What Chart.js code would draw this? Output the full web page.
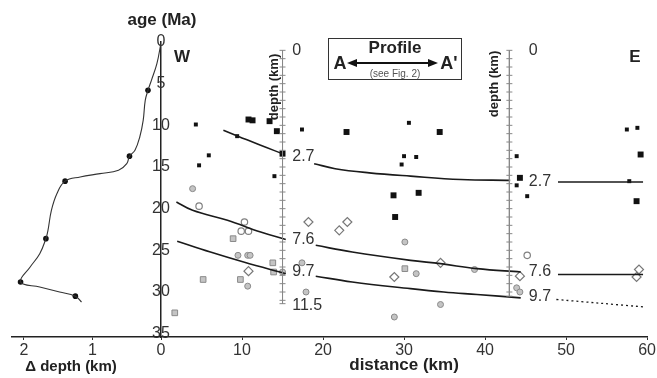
<!DOCTYPE html>
<html>
<head>
<meta charset="utf-8">
<script src="https://cdn.jsdelivr.net/npm/chart.js@4.4.1/dist/chart.umd.min.js"></script>
<style>
  body { margin: 0; background: #fff; }
  #wrap { position: relative; width: 657px; height: 378px; font-family: "Liberation Sans", Arial, sans-serif; color: #222; overflow: hidden; }
  canvas { position: absolute; top: 0; left: 0; }
  .lbl { position: absolute; font-weight: bold; white-space: nowrap; transform: translate(-50%, -50%); }
  .rot { transform: translate(-50%, -50%) rotate(-90deg); }
  #profile { position: absolute; left: 328px; top: 38px; width: 134px; height: 42px; box-sizing: border-box; border: 1.5px solid #333; background: #fff; }
  #profile div { position: absolute; white-space: nowrap; transform: translate(-50%, -50%); }
</style>
</head>
<body>
<div id="wrap">
  <canvas id="mainChart" width="657" height="378"></canvas>
  <canvas id="deltaChart" width="170" height="378"></canvas>

  <div class="lbl" style="left:162px; top:20px; font-size:17px;">age (Ma)</div>
  <div class="lbl" style="left:182px; top:57px; font-size:17px;">W</div>
  <div class="lbl" style="left:635px; top:57px; font-size:17px;">E</div>
  <div class="lbl" style="left:71px; top:365px; font-size:15px;">Δ depth (km)</div>
  <div class="lbl rot" style="left:273px; top:87px; font-size:13px;">depth (km)</div>
  <div class="lbl rot" style="left:493px; top:84px; font-size:13px;">depth (km)</div>

  <div id="profile">
    <svg width="134" height="42" style="position:absolute; left:-1.5px; top:-1.5px;">
      <line x1="26" y1="25" x2="103" y2="25" stroke="#111" stroke-width="2"/>
      <polygon points="19,25 29,21 29,29" fill="#111"/>
      <polygon points="110,25 100,21 100,29" fill="#111"/>
    </svg>
    <div style="left:66px; top:9px; font-weight:bold; font-size:17px;">Profile</div>
    <div style="left:11px; top:24px; font-weight:bold; font-size:18px;">A</div>
    <div style="left:120px; top:24px; font-weight:bold; font-size:18px;">A'</div>
    <div style="left:66px; top:34px; font-size:10px; color:#555;">(see Fig. 2)</div>
  </div>
</div>

<script>
    // Left panel: depth anomaly (km) against age (Ma)
    const deltaCurve = [[0, 0.1], [0.06, 2.6], [0.14, 4.6], [0.19, 5.8], [0.23, 7.0], [0.26, 9.4], [0.31, 11.4],
        [0.38, 13.0], [0.46, 13.7], [0.50, 14.6], [0.62, 15.4], [0.89, 15.8], [1.18, 16.2], [1.40, 16.7],
        [1.52, 18.2], [1.60, 20.2], [1.65, 22.6], [1.68, 23.6], [1.77, 25.4], [1.91, 27.0], [2.05, 28.8],
        [1.77, 29.4], [1.48, 30.0], [1.25, 30.5], [1.16, 31.2]];
    const deltaPoints = [[0.19, 5.8], [0.46, 13.7], [1.40, 16.7], [1.68, 23.6], [2.05, 28.8], [1.25, 30.5]];

    // Main panel samples: [distance km, age Ma]
    const bigSquares = [[10.8, 9.3], [11.3, 9.4], [13.4, 9.5], [14.3, 10.7], [15.0, 13.4], [22.9, 10.8], [34.4, 10.8],
        [28.7, 18.4], [28.9, 21.0], [31.8, 18.1], [44.3, 16.3], [59.2, 13.5], [58.7, 19.1]];
    const smallSquares = [[4.3, 9.9], [5.9, 13.6], [4.7, 14.8], [9.4, 11.3], [14.0, 16.1], [17.4, 10.5], [30.6, 9.7],
        [30.0, 13.7], [29.7, 14.7], [31.5, 13.8], [43.9, 13.7], [43.9, 17.2], [45.2, 18.5], [57.5, 10.5],
        [58.8, 10.3], [57.8, 16.7]];
    const grayDots = [[3.9, 17.6], [9.5, 25.6], [10.7, 25.6], [11.0, 25.6], [15.0, 27.6], [10.7, 29.3], [17.4, 26.5],
        [17.9, 30.0], [30.1, 24.0], [28.8, 33.0], [31.5, 27.8], [38.7, 27.3], [34.5, 31.5], [43.9, 29.5], [44.3, 30.0]];
    const grayBoxes = [[8.9, 23.6], [13.8, 26.5], [13.9, 27.6], [5.2, 28.5], [9.8, 28.5], [1.7, 32.5], [30.1, 27.2]];
    const openCircles = [[4.7, 19.7], [10.3, 21.6], [9.9, 22.7], [10.8, 22.7], [45.2, 25.6]];
    const diamonds = [[18.2, 21.6], [22.0, 22.6], [23.0, 21.6], [10.8, 27.5], [28.8, 28.2], [34.5, 26.5],
        [44.3, 28.1], [59.0, 27.3], [58.7, 28.2]];

    // Horizons, split where the depth labels sit
    const horizon27 = [
        [[7.7, 10.6], [9.5, 11.3], [12.3, 12.4], [15.0, 13.4]],
        [[18.9, 14.6], [21.5, 15.2], [25.7, 15.7], [30.8, 16.1], [37.0, 16.5], [43.1, 16.6]],
        [[49.0, 16.8], [59.5, 16.8]]
    ];
    const horizon76 = [
        [[1.9, 19.2], [3.9, 20.2], [8.2, 21.4], [12.3, 22.8], [15.4, 23.7]],
        [[19.1, 24.4], [23.6, 25.2], [30.8, 26.2], [34.5, 26.6], [39.0, 27.2], [44.4, 27.6]],
        [[49.0, 27.9], [59.5, 27.9]]
    ];
    const horizon97 = [
        [[2.0, 23.9], [6.1, 25.2], [10.2, 26.4], [15.4, 27.8]],
        [[19.1, 28.1], [23.6, 28.8], [30.8, 29.6], [34.9, 30.0], [39.0, 30.3], [44.4, 30.7]]
    ];
    const horizon97Projected = [[48.8, 30.9], [59.7, 31.8]];

    // Depth scales: distance of each scale and the ages of its tick marks
    const depthScaleDist = [15, 43];
    const leftScaleTicks = [1, 2, 3, 4, 5, 6, 7, 8, 9, 10, 11, 12, 13, 14, 15, 16, 17, 18, 19, 20, 21, 22, 23, 24, 25, 26, 27, 28, 29, 30, 31, 31.4];
    const rightScaleTicks = [1, 2, 3, 4, 5, 6, 7, 8, 9, 10, 11, 12, 13, 14, 15, 16, 17, 18, 19, 20, 21, 22, 23, 24, 25, 26, 27, 28, 29, 30, 30.5];

    // Depth labels (km) beside each scale
    const depthLabelText = ['0', '2.7', '7.6', '9.7', '11.5', '0', '2.7', '7.6', '9.7'];
    const depthLabelDist = [16.2, 16.2, 16.2, 16.2, 16.2, 45.4, 45.4, 45.4, 45.4];
    const depthLabelAge = [1.0, 13.8, 23.7, 27.6, 31.6, 1.0, 16.8, 27.6, 30.6];

    const distanceTicks = { min: 0, max: 60, step: 10 };
    const ageTicks = { min: 0, max: 35.4, step: 5 };
    const deltaTicks = { min: 0, max: 2.175, step: 1 };

    Chart.defaults.font.family = '"Liberation Sans", Arial, sans-serif';
    Chart.defaults.color = '#333';

    const toXY = arr => arr.map(p => ({ x: p[0], y: p[1] }));

    const depthLabels = {
        id: 'depthLabels',
        afterDatasetsDraw(chart) {
            const { ctx, scales: { x, y } } = chart;
            ctx.save();
            ctx.font = '16px "Liberation Sans", Arial, sans-serif';
            ctx.fillStyle = '#333';
            ctx.textAlign = 'left';
            ctx.textBaseline = 'middle';
            depthLabelText.forEach((t, i) => {
                ctx.fillText(t, x.getPixelForValue(depthLabelDist[i]), y.getPixelForValue(depthLabelAge[i]));
            });
            ctx.restore();
        }
    };

    const lineSet = (pts, extra) => Object.assign({
        data: toXY(pts), showLine: true, pointRadius: 0, borderColor: '#1a1a1a',
        borderWidth: 1.6, tension: 0.4, fill: false
    }, extra || {});

    const scaleSet = (dist, ticks) => ({
        data: ticks.map(a => ({ x: dist, y: a })), showLine: true, borderColor: '#888', borderWidth: 1,
        pointStyle: 'line', pointRadius: 3, pointBorderColor: '#888', pointBorderWidth: 1
    });

    const mainDatasets = [
        scaleSet(depthScaleDist[0], leftScaleTicks),
        scaleSet(depthScaleDist[1], rightScaleTicks),
        ...horizon27.map(s => lineSet(s)),
        ...horizon76.map(s => lineSet(s)),
        ...horizon97.map(s => lineSet(s)),
        lineSet(horizon97Projected, { borderDash: [2, 3], borderWidth: 1.3 }),
        { data: toXY(grayDots), pointStyle: 'circle', pointRadius: 3, backgroundColor: '#c4c4c4', borderColor: '#8a8a8a', borderWidth: 1 },
        { data: toXY(grayBoxes), pointStyle: 'rect', pointRadius: 4, backgroundColor: '#c4c4c4', borderColor: '#8a8a8a', borderWidth: 1 },
        { data: toXY(openCircles), pointStyle: 'circle', pointRadius: 3.2, backgroundColor: '#fff', borderColor: '#808080', borderWidth: 1.2 },
        { data: toXY(diamonds), pointStyle: 'rectRot', pointRadius: 4.5, backgroundColor: '#fff', borderColor: '#777', borderWidth: 1.2 },
        { data: toXY(smallSquares), pointStyle: 'rect', pointRadius: 2.8, backgroundColor: '#111', borderColor: '#111', borderWidth: 0 },
        { data: toXY(bigSquares), pointStyle: 'rect', pointRadius: 4.2, backgroundColor: '#111', borderColor: '#111', borderWidth: 0 }
    ];

    new Chart(document.getElementById('mainChart'), {
        type: 'scatter',
        data: { datasets: mainDatasets },
        options: {
            responsive: false,
            animation: false,
            layout: { padding: { left: 161, right: 9, top: 42, bottom: 0 } },
            plugins: { legend: { display: false }, tooltip: { enabled: false } },
            scales: {
                x: {
                    type: 'linear', min: distanceTicks.min, max: distanceTicks.max,
                    ticks: { stepSize: distanceTicks.step, font: { size: 16 }, color: '#333', padding: 1 },
                    grid: { drawOnChartArea: false, tickLength: 3, color: '#333' },
                    border: { color: '#222', width: 1.5 },
                    title: { display: true, text: 'distance (km)', color: '#222', font: { size: 17, weight: 'bold' }, padding: { top: 0, bottom: 2 } },
                    afterFit: s => { s.height = 41; }
                },
                y: {
                    type: 'linear', reverse: true, min: ageTicks.min, max: ageTicks.max,
                    ticks: { stepSize: ageTicks.step, includeBounds: false, mirror: true, crossAlign: 'center', padding: -9, font: { size: 16 }, color: '#333' },
                    grid: { display: false },
                    border: { color: '#222', width: 1.5 },
                    afterFit: s => { s.width = 0; }
                }
            }
        },
        plugins: [depthLabels]
    });

    new Chart(document.getElementById('deltaChart'), {
        type: 'scatter',
        data: {
            datasets: [
                { data: toXY(deltaCurve), showLine: true, pointRadius: 0, borderColor: '#333', borderWidth: 1.1, tension: 0.4 },
                { data: toXY(deltaPoints), pointRadius: 2.8, backgroundColor: '#111', borderColor: '#111', borderWidth: 0 }
            ]
        },
        options: {
            responsive: false,
            animation: false,
            layout: { padding: { left: 12, right: 9, top: 42, bottom: 0 } },
            plugins: { legend: { display: false }, tooltip: { enabled: false } },
            scales: {
                x: {
                    type: 'linear', reverse: true, min: deltaTicks.min, max: deltaTicks.max,
                    ticks: { stepSize: deltaTicks.step, includeBounds: false, font: { size: 16 }, color: '#333', padding: 1,
                        callback: v => (v === 0 ? null : v) },
                    grid: { drawOnChartArea: false, tickLength: 3, color: '#333' },
                    border: { color: '#222', width: 1.5 },
                    afterFit: s => { s.height = 41; }
                },
                y: { type: 'linear', display: false, reverse: true, min: ageTicks.min, max: ageTicks.max }
            }
        }
    });
</script>
</body>
</html>
